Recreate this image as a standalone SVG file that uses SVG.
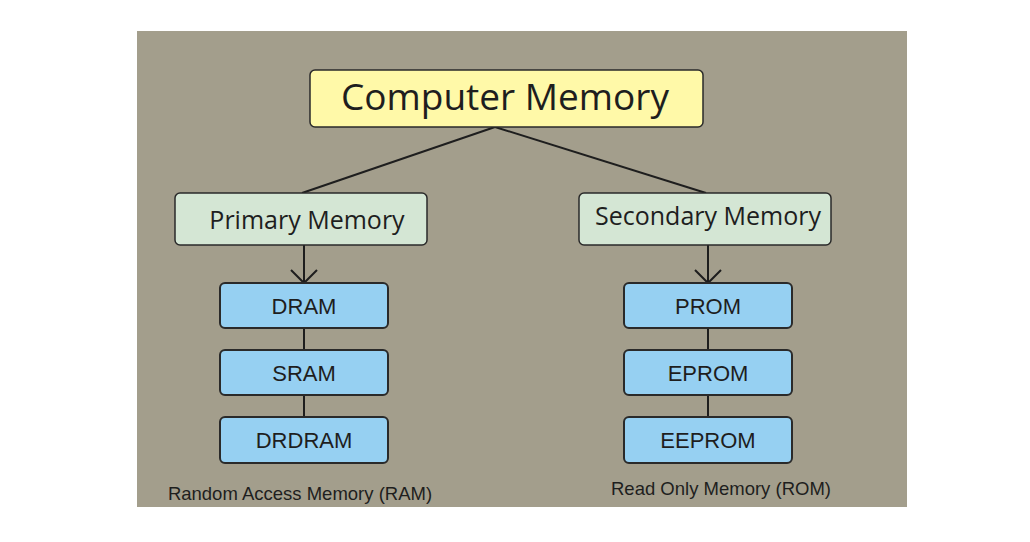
<svg xmlns="http://www.w3.org/2000/svg" width="1030" height="542" viewBox="0 0 1030 542">
<defs>
<style>
.bg{fill:#a39e8c}
.box{stroke:#2a2a2a;stroke-width:1.5}
.top{fill:#fff9a8}
.mid{fill:#d4e6d4}
.leaf{fill:#96d0f2;stroke-width:2}
.cal{font-family:"Open Sans","Noto Sans",sans-serif;fill:#1e1e1e}
.ari{font-family:"Liberation Sans",Arial,sans-serif;fill:#1e1e1e}
.ln{stroke:#1e1e1e;stroke-width:2;fill:none}
</style>
<marker id="arr" markerWidth="16" markerHeight="30" refX="14" refY="14" orient="auto" markerUnits="userSpaceOnUse">
<path d="M1,1 L14,14 L1,27" fill="none" stroke="#1e1e1e" stroke-width="2"/>
</marker>
</defs>
<rect width="1030" height="542" fill="#ffffff"/>
<rect class="bg" x="137" y="31" width="770" height="476"/>
<g id="connectors">
<line class="ln" x1="495" y1="127" x2="302" y2="193"/>
<line class="ln" x1="495" y1="127" x2="706" y2="193"/>
<line class="ln" x1="304" y1="245" x2="304" y2="283" marker-end="url(#arr)"/>
<line class="ln" x1="708" y1="245" x2="708" y2="283" marker-end="url(#arr)"/>
<line class="ln" x1="304" y1="328" x2="304" y2="350"/>
<line class="ln" x1="304" y1="395" x2="304" y2="417"/>
<line class="ln" x1="708" y1="328" x2="708" y2="350"/>
<line class="ln" x1="708" y1="395" x2="708" y2="417"/>
</g>
<g id="computer-memory">
<rect class="box top" x="310" y="70" width="393" height="57" rx="5"/>
<text class="cal" x="505" y="110" font-size="37" text-anchor="middle">Computer Memory</text>
</g>
<g id="primary-memory">
<rect class="box mid" x="175" y="193" width="252" height="52" rx="5"/>
<text class="cal" x="307" y="229" font-size="25" text-anchor="middle">Primary Memory</text>
</g>
<g id="secondary-memory">
<rect class="box mid" x="579" y="193" width="252" height="52" rx="5"/>
<text class="cal" x="708" y="225" font-size="25" text-anchor="middle">Secondary Memory</text>
</g>
<g id="dram">
<rect class="box leaf" x="220" y="283" width="168" height="45" rx="5"/>
<text class="ari" x="304" y="314" font-size="22" text-anchor="middle">DRAM</text>
</g>
<g id="sram">
<rect class="box leaf" x="220" y="350" width="168" height="45" rx="5"/>
<text class="ari" x="304" y="381" font-size="22" text-anchor="middle">SRAM</text>
</g>
<g id="drdram">
<rect class="box leaf" x="220" y="417" width="168" height="46" rx="5"/>
<text class="ari" x="304" y="448" font-size="22" text-anchor="middle">DRDRAM</text>
</g>
<g id="prom">
<rect class="box leaf" x="624" y="283" width="168" height="45" rx="5"/>
<text class="ari" x="708" y="314" font-size="22" text-anchor="middle">PROM</text>
</g>
<g id="eprom">
<rect class="box leaf" x="624" y="350" width="168" height="45" rx="5"/>
<text class="ari" x="708" y="381" font-size="22" text-anchor="middle">EPROM</text>
</g>
<g id="eeprom">
<rect class="box leaf" x="624" y="417" width="168" height="46" rx="5"/>
<text class="ari" x="708" y="448" font-size="22" text-anchor="middle">EEPROM</text>
</g>
<g id="labels">
<text class="ari" x="300" y="500" font-size="18.5" text-anchor="middle">Random Access Memory (RAM)</text>
<text class="ari" x="721" y="495" font-size="18.5" text-anchor="middle">Read Only Memory (ROM)</text>
</g>
</svg>
